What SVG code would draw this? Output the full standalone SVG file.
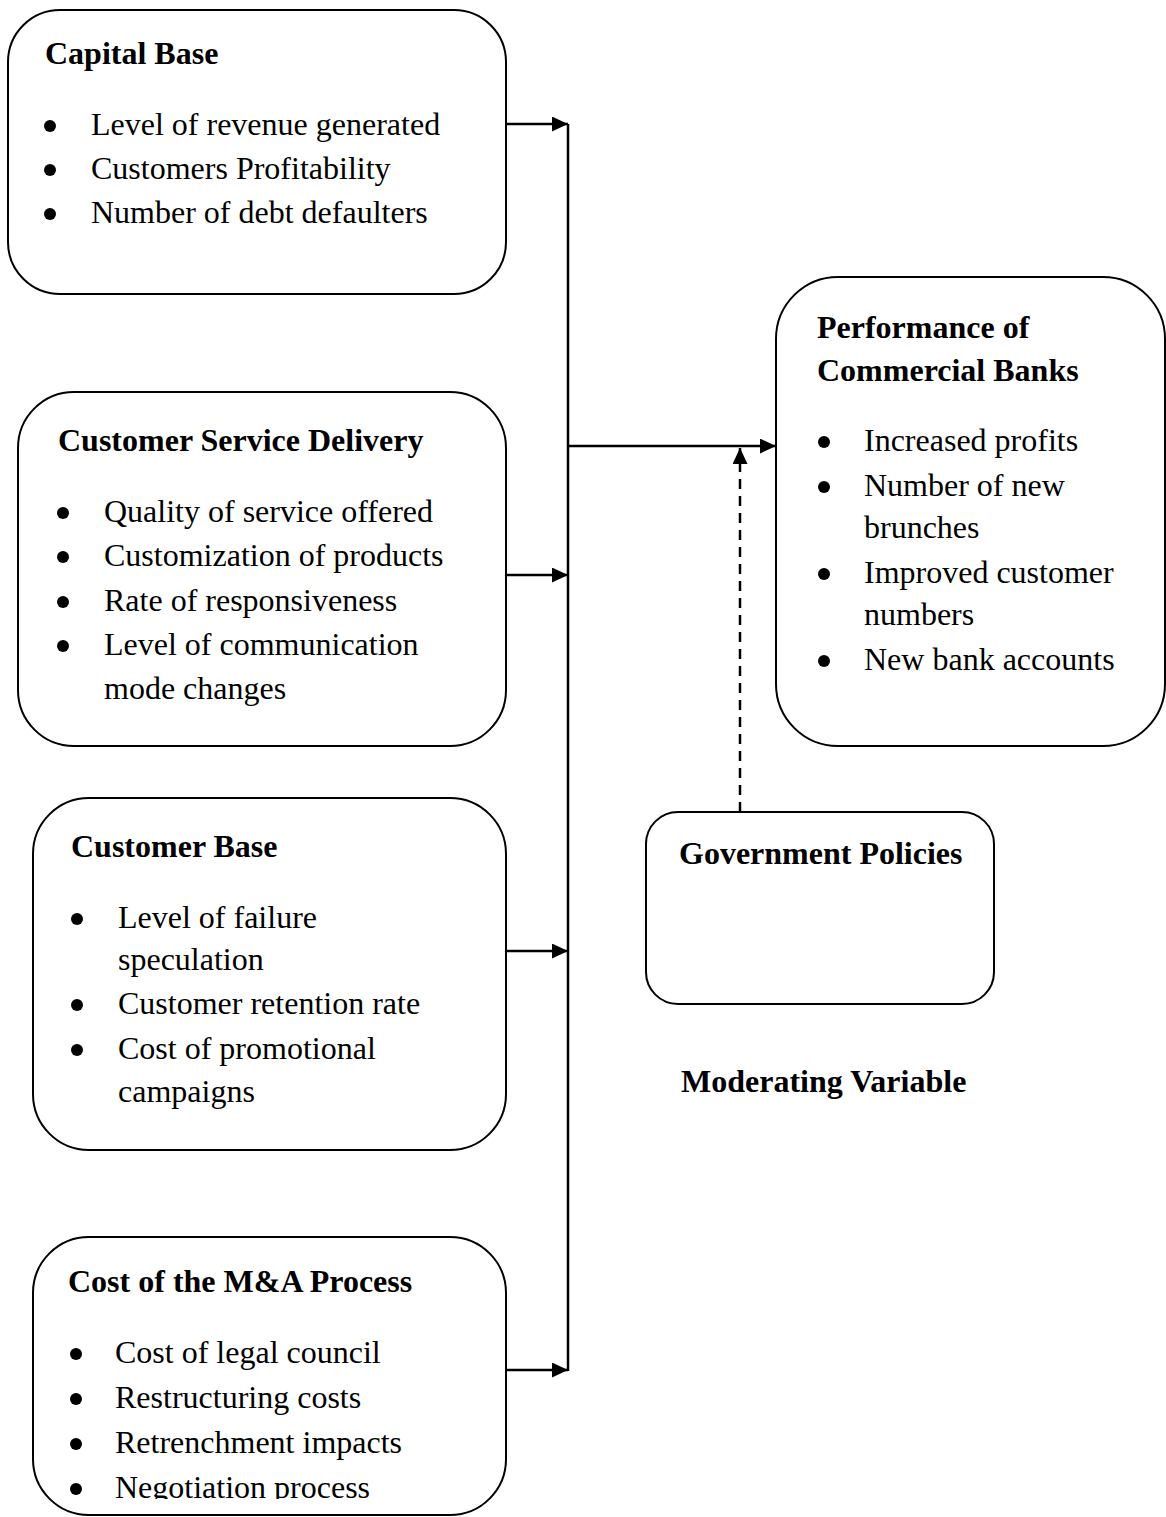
<svg xmlns="http://www.w3.org/2000/svg" width="1166" height="1517" viewBox="0 0 1166 1517">
<style>
.box{fill:#fff;stroke:#000;stroke-width:2}
.t{font-family:"Liberation Serif","Times New Roman",serif;font-size:32px;fill:#000}
.h{font-family:"Liberation Serif","Times New Roman",serif;font-size:32px;font-weight:bold;fill:#000}
.dot{fill:#000}
.ln{stroke:#000;stroke-width:2.5;fill:none}
.dash{stroke:#000;stroke-width:2.5;fill:none;stroke-dasharray:10,7}
</style>
<defs>
<marker id="ah" viewBox="0 0 16 15" refX="16" refY="7.5" markerWidth="16" markerHeight="15" markerUnits="userSpaceOnUse" orient="auto"><path d="M0,0 L16,7.5 L0,15 z" fill="#000"/></marker>
<clipPath id="clipBottom"><rect x="0" y="0" width="1166" height="1499"/></clipPath>
</defs>
<rect width="1166" height="1517" fill="#fff"/>

<g id="capital-base">
<rect class="box" x="8" y="10" width="498" height="284" rx="52" ry="52"/>
<text class="h" x="45" y="64">Capital Base</text>
<circle class="dot" cx="50" cy="126" r="6"/><text class="t" x="91" y="135">Level of revenue generated</text>
<circle class="dot" cx="50" cy="170" r="6"/><text class="t" x="91" y="179">Customers Profitability</text>
<circle class="dot" cx="50" cy="214" r="6"/><text class="t" x="91" y="223">Number of debt defaulters</text>
</g>

<g id="customer-service-delivery">
<rect class="box" x="18" y="392" width="488" height="354" rx="56" ry="56"/>
<text class="h" x="58" y="451">Customer Service Delivery</text>
<circle class="dot" cx="63" cy="513" r="6"/><text class="t" x="104" y="522">Quality of service offered</text>
<circle class="dot" cx="63" cy="557" r="6"/><text class="t" x="104" y="566">Customization of products</text>
<circle class="dot" cx="63" cy="602" r="6"/><text class="t" x="104" y="611">Rate of responsiveness</text>
<circle class="dot" cx="63" cy="646" r="6"/><text class="t" x="104" y="655">Level of communication</text>
<text class="t" x="104" y="699">mode changes</text>
</g>

<g id="customer-base">
<rect class="box" x="33" y="798" width="473" height="352" rx="56" ry="56"/>
<text class="h" x="71" y="857">Customer Base</text>
<circle class="dot" cx="77" cy="919" r="6"/><text class="t" x="118" y="928">Level of failure</text>
<text class="t" x="118" y="970">speculation</text>
<circle class="dot" cx="77" cy="1005" r="6"/><text class="t" x="118" y="1014">Customer retention rate</text>
<circle class="dot" cx="77" cy="1050" r="6"/><text class="t" x="118" y="1059">Cost of promotional</text>
<text class="t" x="118" y="1102">campaigns</text>
</g>

<g id="cost-ma-process">
<rect class="box" x="33" y="1237" width="473" height="278" rx="56" ry="56"/>
<text class="h" x="68" y="1292">Cost of the M&amp;A Process</text>
<circle class="dot" cx="76" cy="1354" r="6"/><text class="t" x="115" y="1363">Cost of legal council</text>
<circle class="dot" cx="76" cy="1399" r="6"/><text class="t" x="115" y="1408">Restructuring costs</text>
<circle class="dot" cx="76" cy="1444" r="6"/><text class="t" x="115" y="1453">Retrenchment impacts</text>
<g clip-path="url(#clipBottom)"><circle class="dot" cx="76" cy="1489" r="6"/><text class="t" x="115" y="1498">Negotiation process</text></g>
</g>

<g id="performance">
<rect class="box" x="776" y="277" width="389" height="469" rx="62" ry="62"/>
<text class="h" x="817" y="338">Performance of</text>
<text class="h" x="817" y="381">Commercial Banks</text>
<circle class="dot" cx="824" cy="442" r="6"/><text class="t" x="864" y="451">Increased profits</text>
<circle class="dot" cx="824" cy="487" r="6"/><text class="t" x="864" y="496">Number of new</text>
<text class="t" x="864" y="538">brunches</text>
<circle class="dot" cx="824" cy="574" r="6"/><text class="t" x="864" y="583">Improved customer</text>
<text class="t" x="864" y="625">numbers</text>
<circle class="dot" cx="824" cy="661" r="6"/><text class="t" x="864" y="670">New bank accounts</text>
</g>

<g id="government-policies">
<rect class="box" x="646" y="812" width="348" height="192" rx="32" ry="32"/>
<text class="h" x="679" y="864">Government Policies</text>
</g>

<g id="moderating-label">
<text class="h" x="681" y="1092">Moderating Variable</text>
</g>

<g id="connectors">
<line class="ln" x1="568" y1="124" x2="568" y2="1371"/>
<line class="ln" x1="506" y1="124" x2="568" y2="124" marker-end="url(#ah)"/>
<line class="ln" x1="506" y1="575" x2="568" y2="575" marker-end="url(#ah)"/>
<line class="ln" x1="506" y1="951" x2="568" y2="951" marker-end="url(#ah)"/>
<line class="ln" x1="506" y1="1370" x2="568" y2="1370" marker-end="url(#ah)"/>
<line class="ln" x1="568" y1="446" x2="776" y2="446" marker-end="url(#ah)"/>
<line class="dash" x1="740" y1="812" x2="740" y2="448" marker-end="url(#ah)"/>
</g>
</svg>
